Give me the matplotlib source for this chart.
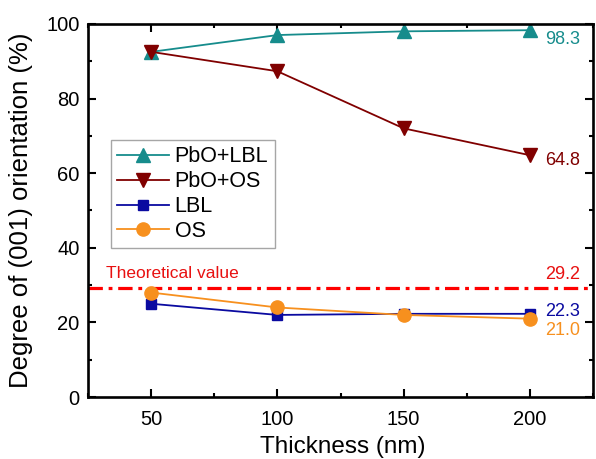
import numpy as np
import matplotlib
matplotlib.use('Agg')
from matplotlib import pyplot as plt
from matplotlib.ticker import MultipleLocator

plt.rcParams['font.family'] = ['Liberation Sans', 'DejaVu Sans']

thickness = [50, 100, 150, 200]
pbo_lbl = [92.5, 97.0, 98.0, 98.3]
pbo_os = [92.5, 87.3, 72.0, 64.8]
lbl = [25.0, 22.0, 22.3, 22.3]
os_ = [28.0, 24.0, 22.0, 21.0]
theory = 29.2

teal = '#168c8c'
dred = '#800000'
blue = '#0a0aa0'
orange = '#f7901e'
red = '#e81010'

fig = plt.figure(figsize=(5.96, 4.59), dpi=100)
ax = fig.add_axes([0.1477, 0.135, 0.8473, 0.813])

ax.axhline(theory, color='#ff0000', lw=2.3, ls=(0, (4.5, 1.8, 1.2, 1.8)), zorder=1)

ax.plot(thickness, pbo_lbl, '-^', color=teal, ms=10, lw=1.3, label='PbO+LBL')
ax.plot(thickness, pbo_os, '-v', color=dred, ms=10, lw=1.3, label='PbO+OS')
ax.plot(thickness, lbl, '-s', color=blue, ms=7.5, lw=1.3, label='LBL')
ax.plot(thickness, os_, '-o', color=orange, ms=9.5, lw=1.3, label='OS')

ax.set_xlim(25, 225)
ax.set_ylim(0, 100)
ax.xaxis.set_major_locator(MultipleLocator(50))
ax.xaxis.set_minor_locator(MultipleLocator(25))
ax.yaxis.set_major_locator(MultipleLocator(20))
ax.yaxis.set_minor_locator(MultipleLocator(10))
ax.tick_params(which='both', direction='in', top=True, right=True, width=1.5, labelsize=14.5)
ax.tick_params(which='major', length=5.5)
ax.tick_params(which='minor', length=3)
ax.tick_params(axis='x', pad=9)
ax.tick_params(axis='y', pad=6)
for s in ax.spines.values():
    s.set_linewidth(1.9)

ax.set_xlabel('Thickness (nm)', fontsize=17.5)
ax.set_ylabel('Degree of (001) orientation (%)', fontsize=18.5)
ax.xaxis.set_label_coords(0.505, -0.105)
ax.yaxis.set_label_coords(-0.109, 0.5)

# end-point values
ax.text(206, pbo_lbl[-1] - 2.5, f'{pbo_lbl[-1]:.1f}', color=teal, fontsize=13, va='center')
ax.text(206, pbo_os[-1] - 1.3, f'{pbo_os[-1]:.1f}', color=dred, fontsize=13, va='center')
ax.text(206, theory + 1.3, f'{theory:.1f}', color=red, fontsize=13, va='bottom')
ax.text(206, lbl[-1] + 0.5, f'{lbl[-1]:.1f}', color=blue, fontsize=13, va='center')
ax.text(206, os_[-1] - 0.8, f'{os_[-1]:.1f}', color=orange, fontsize=13, va='top')
ax.text(32, theory + 2.0, 'Theoretical value', color=red, fontsize=12.5, va='bottom')

leg = ax.legend(loc='upper left', bbox_to_anchor=(0.0455, 0.689), borderaxespad=0,
                fontsize=15.5, frameon=True, fancybox=False, edgecolor='#909090',
                handlelength=2.4, labelspacing=0.18, borderpad=0.3, handletextpad=0.25)
leg.get_frame().set_linewidth(1.0)

fig.savefig('out.png', dpi=100)
